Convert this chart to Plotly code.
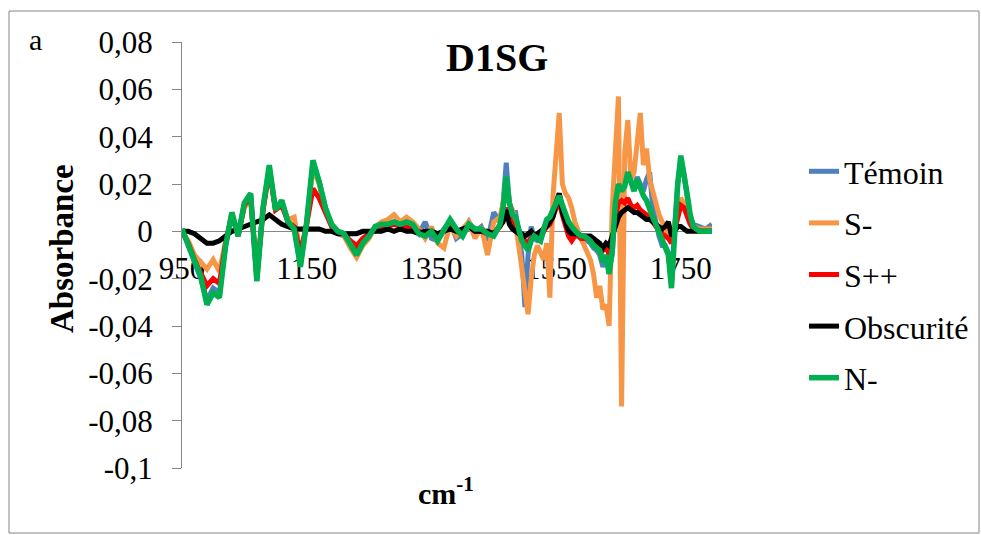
import plotly.graph_objects as go

# ---------------- data ----------------
wavenumber = (list(range(950, 1461, 10)) + list(range(1465, 1771, 5)) + [1780, 1790, 1800])

temoin = [0.001, -0.006, -0.013, -0.020, -0.029, -0.024, -0.026, -0.006, 0.008, -0.002,
          0.012, 0.016, -0.021, 0.010, 0.027, 0.009, 0.013, 0.004, 0.001, -0.014,
          0.004, 0.029, 0.021, 0.010, 0.002, -0.001, -0.002, -0.006, -0.009, -0.005,
          -0.002, 0.002, 0.003, 0.003, 0.004, 0.003, 0.003, 0.002, -0.001, 0.004,
          -0.003, -0.004, 0.001, 0.004, -0.003, -0.001, 0.004, 0.000, 0.002, -0.004,
          0.008, 0.004,
          0.012, 0.029, 0.012, 0.008, 0.008, 0.000, -0.010, -0.032, -0.010, 0.002,
          -0.003, -0.004, -0.004, 0.000, 0.004, 0.006, 0.009, 0.013, 0.016, 0.011,
          0.006, 0.003, 0.001, -0.001, -0.002, -0.003, -0.003, -0.004, -0.005, -0.007,
          -0.008, -0.010, -0.015, -0.012, -0.016, -0.010, 0.010, 0.018, 0.016, 0.020,
          0.024, 0.021, 0.018, 0.023, 0.020, 0.017, 0.022, 0.025, 0.010, 0.003,
          -0.002, -0.006, -0.006, -0.009, -0.022, 0.002, 0.020, 0.030, 0.024, 0.015,
          0.006, 0.003,
          0.002, 0.001, 0.003]

s_moins = [0.000, -0.004, -0.010, -0.013, -0.016, -0.012, -0.017, -0.004, 0.007, -0.001,
           0.010, 0.014, -0.018, 0.009, 0.026, 0.010, 0.012, 0.005, 0.006, -0.010,
           0.003, 0.027, 0.020, 0.009, 0.003, 0.000, -0.002, -0.007, -0.011, -0.006,
           -0.003, 0.002, 0.004, 0.005, 0.007, 0.004, 0.006, 0.004, 0.001, -0.003,
           0.002, -0.005, -0.007, 0.003, -0.002, 0.001, 0.004, -0.003, 0.002, -0.010,
           0.004, 0.006,
           0.012, 0.021, 0.012, 0.009, 0.003, -0.006, -0.016, -0.022, -0.035, -0.020,
           -0.010, -0.006, -0.009, -0.012, -0.005, -0.028, 0.015, 0.030, 0.050, 0.020,
           0.016, 0.014, 0.010, 0.004, 0.000, -0.003, -0.006, -0.009, -0.012, -0.018,
           -0.028, -0.023, -0.033, -0.031, -0.040, 0.010, 0.030, 0.057, -0.074, 0.033,
           0.047, 0.022, 0.025, 0.040, 0.050, 0.028, 0.035, 0.022, 0.017, 0.010,
           0.007, 0.004, 0.002, -0.003, -0.001, 0.003, 0.010, 0.014, 0.012, 0.010,
           0.005, 0.002,
           0.001, 0.001, 0.001]

s_plus = [0.000, -0.005, -0.012, -0.018, -0.023, -0.020, -0.022, -0.005, 0.007, -0.002,
          0.011, 0.015, -0.019, 0.009, 0.026, 0.009, 0.011, 0.004, 0.002, -0.009,
          0.003, 0.018, 0.014, 0.008, 0.002, 0.000, -0.001, -0.004, -0.006, -0.003,
          -0.001, 0.001, 0.002, 0.002, 0.003, 0.002, 0.002, 0.001, 0.000, -0.001,
          0.000, -0.002, 0.000, 0.003, 0.000, -0.001, 0.002, 0.000, 0.000, -0.001,
          -0.001, 0.002,
          0.005, 0.010, 0.006, 0.003, 0.002, 0.000, -0.002, -0.004, -0.005, -0.003,
          -0.002, -0.002, -0.002, 0.000, 0.002, 0.003, 0.006, 0.010, 0.013, 0.007,
          0.003, -0.002, -0.004, -0.002, -0.002, -0.003, -0.003, -0.003, -0.004, -0.004,
          -0.005, -0.006, -0.008, -0.006, -0.010, -0.004, 0.006, 0.012, 0.013, 0.012,
          0.014, 0.011, 0.010, 0.011, 0.009, 0.008, 0.007, 0.006, 0.004, 0.002,
          0.001, -0.001, -0.002, -0.003, -0.005, 0.000, 0.006, 0.011, 0.010, 0.006,
          0.003, 0.001,
          0.000, 0.000, 0.000]

obscurite = [0.000, 0.000, -0.001, -0.003, -0.005, -0.005, -0.004, -0.002, 0.000, 0.001,
             0.002, 0.003, 0.004, 0.005, 0.007, 0.005, 0.003, 0.002, 0.001, 0.001,
             0.001, 0.001, 0.001, 0.000, 0.000, -0.001, -0.001, -0.001, -0.001, 0.000,
             0.000, 0.000, 0.000, 0.001, 0.000, 0.001, 0.000, 0.000, -0.001, 0.000,
             0.000, -0.001, 0.000, 0.001, 0.000, 0.001, 0.002, 0.000, 0.000, 0.000,
             -0.001, 0.002,
             0.004, 0.009, 0.003, 0.001, 0.000, -0.001, -0.001, -0.002, -0.001, 0.000,
             -0.002, -0.001, 0.000, 0.001, 0.002, 0.004, 0.006, 0.012, 0.016, 0.008,
             0.003, 0.000, -0.001, -0.001, -0.001, -0.002, -0.002, -0.002, -0.002, -0.003,
             -0.004, -0.005, -0.007, -0.005, -0.006, -0.002, 0.002, 0.006, 0.008, 0.009,
             0.010, 0.009, 0.008, 0.008, 0.007, 0.006, 0.005, 0.005, 0.004, 0.003,
             0.002, 0.001, 0.002, 0.004, -0.002, 0.000, 0.002, 0.002, 0.001, 0.000,
             0.000, 0.000,
             0.000, 0.000, 0.000]

n_moins = [0.001, -0.006, -0.013, -0.019, -0.031, -0.026, -0.028, -0.006, 0.008, -0.002,
           0.012, 0.016, -0.021, 0.010, 0.028, 0.009, 0.013, 0.004, 0.001, -0.015,
           0.004, 0.030, 0.021, 0.010, 0.003, 0.000, -0.001, -0.006, -0.010, -0.005,
           -0.002, 0.002, 0.003, 0.003, 0.004, 0.003, 0.004, 0.003, -0.001, -0.002,
           0.000, -0.004, 0.000, 0.005, 0.001, -0.002, 0.003, 0.001, 0.001, -0.001,
           -0.002, 0.003,
           0.010, 0.023, 0.012, 0.007, 0.006, 0.001, -0.004, -0.006, -0.008, -0.004,
           -0.002, -0.003, -0.004, 0.001, 0.005, 0.006, 0.009, 0.012, 0.015, 0.011,
           0.007, 0.004, 0.002, 0.000, -0.001, -0.002, -0.002, -0.003, -0.004, -0.006,
           -0.007, -0.008, -0.013, -0.010, -0.018, -0.008, 0.012, 0.020, 0.017, 0.019,
           0.025, 0.020, 0.017, 0.022, 0.018, 0.015, 0.013, 0.009, 0.006, 0.003,
           0.000, -0.003, -0.006, -0.010, -0.024, 0.000, 0.020, 0.032, 0.025, 0.016,
           0.007, 0.002,
           0.000, 0.000, 0.000]

series_names = ["Témoin", "S-", "S++", "Obscurité", "N-"]
series_values = [temoin, s_moins, s_plus, obscurite, n_moins]
series_colors = ["#4F81BD", "#F79646", "#FF0000", "#000000", "#00B050"]
series_widths = [5, 5, 5, 5, 5.5]

x_tick_vals = [950, 1150, 1350, 1550, 1750]
x_tick_text = ["950", "1150", "1350", "1550", "1750"]
y_tick_vals = [-0.1, -0.08, -0.06, -0.04, -0.02, 0, 0.02, 0.04, 0.06, 0.08]
y_tick_text = ["-0,1", "-0,08", "-0,06", "-0,04", "-0,02", "0", "0,02", "0,04", "0,06", "0,08"]

# ---------------- figure ----------------
FONT = "Liberation Serif"
W, H = 981, 535
L, R, T, B = 182, 712, 42, 468   # plot area in pixels


def px(xp):
    return (xp - L) / (R - L)


def py(yp):
    return (B - yp) / (B - T)


fig = go.Figure()
for i, (name, vals, col, lw) in enumerate(zip(series_names, series_values, series_colors, series_widths)):
    fig.add_trace(go.Scatter(
        x=wavenumber, y=vals, name=name, mode="lines",
        line=dict(color=col, width=lw), legendgroup=f"g{i}",
    ))

y0_frac = (0 - (-0.1)) / (0.08 - (-0.1))

fig.update_layout(
    width=W, height=H,
    margin=dict(l=L, r=W - R, t=T, b=H - B, pad=0, autoexpand=False),
    paper_bgcolor="white", plot_bgcolor="white",
    font=dict(family=FONT, size=30, color="black"),
    showlegend=True,
    legend=dict(
        x=px(804), y=py(144), xanchor="left", yanchor="top",
        font=dict(family=FONT, size=32, color="black"),
        tracegroupgap=7, traceorder="grouped",
        bgcolor="rgba(0,0,0,0)",
    ),
    xaxis=dict(
        range=[950, 1800], anchor="free", position=y0_frac,
        showline=True, linecolor="#868686", linewidth=1,
        ticks="", tickvals=x_tick_vals, ticktext=x_tick_text,
        tickfont=dict(family=FONT, size=31, color="black"),
        ticklabelstandoff=9,
        showgrid=False, zeroline=False, layer="below traces",
    ),
    yaxis=dict(
        range=[-0.1, 0.08],
        showline=True, linecolor="#868686", linewidth=1,
        ticks="outside", ticklen=9, tickcolor="#868686",
        tickvals=y_tick_vals, ticktext=y_tick_text,
        tickfont=dict(family=FONT, size=31, color="black"),
        ticklabelstandoff=13,
        showgrid=False, zeroline=False, layer="below traces",
    ),
    shapes=[dict(type="rect", xref="paper", yref="paper",
                 x0=px(9), x1=px(979), y0=py(533), y1=py(11),
                 line=dict(color="#868686", width=1), fillcolor="rgba(0,0,0,0)",
                 layer="below")],
    annotations=[
        dict(text="<b>D1SG</b>", xref="paper", yref="paper", x=px(497), y=py(58),
             xanchor="center", yanchor="middle", showarrow=False,
             font=dict(family=FONT, size=40, color="black")),
        dict(text="a", xref="paper", yref="paper", x=px(35), y=py(40),
             xanchor="center", yanchor="middle", showarrow=False,
             font=dict(family=FONT, size=30, color="black")),
        dict(text="<b>Absorbance</b>", xref="paper", yref="paper", x=px(62), y=py(249),
             xanchor="center", yanchor="middle", showarrow=False, textangle=-90,
             font=dict(family=FONT, size=33, color="black")),
        dict(text="<b>cm<sup>-1</sup></b>", xref="paper", yref="paper", x=px(446), y=py(491),
             xanchor="center", yanchor="middle", showarrow=False,
             font=dict(family=FONT, size=30, color="black")),
    ],
)

fig.write_html("out.html", config={"displayModeBar": False},
               post_script="document.body.style.margin='0px';")
